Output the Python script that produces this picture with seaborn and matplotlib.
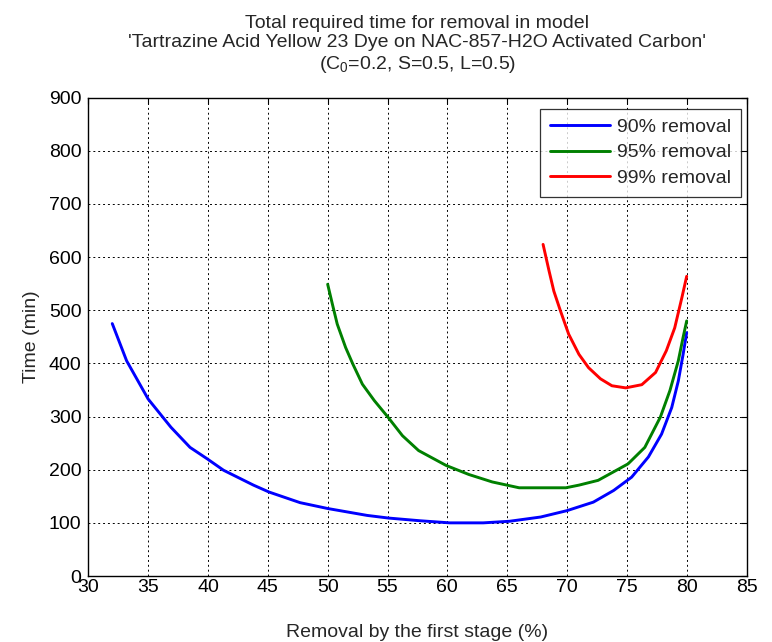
import matplotlib
matplotlib.use("Agg")
import matplotlib.pyplot as plt
import pandas as pd
import seaborn as sns

# values
x90 = [32.0, 33.2, 35.0, 36.9, 38.5, 39.9, 41.3, 43.8, 45.1, 47.7, 50.0, 53.3, 55.1, 57.7,
       60.2, 63.0, 65.2, 67.8, 70.0, 72.2, 73.9, 75.4, 76.8, 77.9, 78.75, 79.3, 79.7, 80.0]
t90 = [475, 405, 333, 280, 242, 221, 199, 171, 158, 138, 127, 114, 109, 104,
       100, 100, 103, 111, 123, 139, 161, 186, 224, 267, 317, 367, 417, 458]

x95 = [50.0, 50.4, 50.8, 51.5, 52.1, 52.9, 53.9, 55.0, 56.25, 57.6, 59.9, 61.8, 63.75,
       66.0, 69.9, 71.0, 72.6, 75.1, 76.5, 77.8, 78.6, 79.3, 79.7, 80.0]
t95 = [549, 511, 474, 430, 399, 361, 330, 300, 264, 236, 208, 191, 177,
       166, 166, 171, 180, 211, 242, 299, 349, 405, 449, 480]

x99 = [68.0, 68.5, 68.9, 69.45, 70.14, 71.0, 71.8, 72.8, 73.75, 74.9, 76.25, 77.4,
       78.3, 79.0, 79.6, 80.0]
t99 = [624, 574, 536, 499, 455, 417, 392, 371, 358, 354, 360, 383,
       424, 467, 524, 564]

labels = ["90% removal", "95% removal", "99% removal"]
colors = ["#0000ff", "#008000", "#ff0000"]

df = pd.concat([
    pd.DataFrame({"x": x90, "t": t90, "series": labels[0]}),
    pd.DataFrame({"x": x95, "t": t95, "series": labels[1]}),
    pd.DataFrame({"x": x99, "t": t99, "series": labels[2]}),
])

sns.set_theme(style="white")
plt.rcParams["font.family"] = ["Liberation Sans", "DejaVu Sans"]
plt.rcParams["mathtext.fontset"] = "custom"
plt.rcParams["mathtext.rm"] = "Liberation Sans"
plt.rcParams["mathtext.it"] = "Liberation Sans"

fs = 14
fig = plt.figure(figsize=(7.72, 6.42), dpi=100)
ax = fig.add_axes([0.1144, 0.1028, 0.8526, 0.745])

sns.lineplot(data=df, x="x", y="t", hue="series", palette=colors, sort=False,
             estimator=None, linewidth=2.1, ax=ax)

ax.set_xlim(30, 85)
ax.set_ylim(0, 900)
ax.set_xticks(range(30, 86, 5))
ax.set_yticks(range(0, 901, 100))
ax.grid(True, color="black", linestyle=(0, (2, 3)), linewidth=0.7)
ax.tick_params(direction="in", length=4, width=0.8, top=True, right=True,
               labelsize=fs, colors="black")
ax.tick_params(axis="y", pad=5)
ax.tick_params(axis="x", pad=2)
for s in ax.spines.values():
    s.set_color("black")
    s.set_linewidth(1.0)

ax.set_xlabel("Removal by the first stage (%)", fontsize=fs, labelpad=20)
ax.set_ylabel("Time (min)", fontsize=fs, labelpad=6)
ax.set_title("Total required time for removal in model\n"
             "'Tartrazine Acid Yellow 23 Dye on NAC-857-H2O Activated Carbon'\n"
             "(C$_0$=0.2, S=0.5, L=0.5)", fontsize=fs, pad=21, linespacing=1.15)

leg = ax.legend(loc="upper right", bbox_to_anchor=(0.991, 0.977), fontsize=fs,
                frameon=True, fancybox=False, edgecolor="black", handlelength=3.1,
                borderaxespad=0, labelspacing=0.4, handletextpad=0.35, borderpad=0.5)
leg.get_frame().set_linewidth(0.9)

fig.savefig("out.png", dpi=100)
